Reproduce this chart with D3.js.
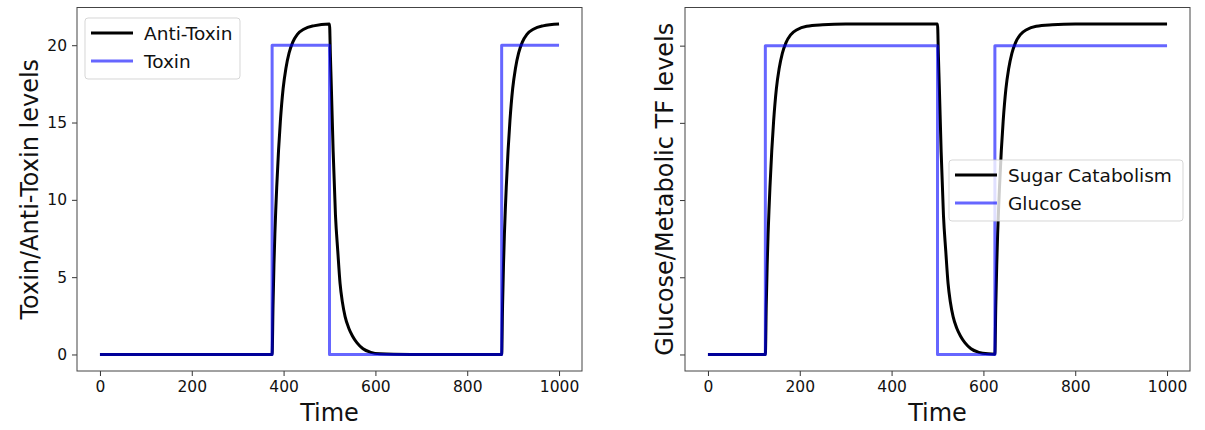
<!DOCTYPE html>
<html>
<head>
<meta charset="utf-8">
<script src="https://cdn.jsdelivr.net/npm/d3@7"></script>
<style>
  html, body { margin: 0; padding: 0; background: #fff; }
  svg { display: block; font-family: "DejaVu Sans", sans-serif; }
</style>
</head>
<body>
<svg id="chart" width="1205" height="430"></svg>
<script>
// ---- Data -------------------------------------------------------------
const xTicks = [0, 200, 400, 600, 800, 1000];
const yTicks = [0, 5, 10, 15, 20];

// Left panel: toxin pulses and the anti-toxin response
const toxinTime = [0, 375, 375, 500, 500, 875, 875, 1000];
const toxin     = [0, 0, 20, 20, 0, 0, 20, 20];

const antiToxinTime = [0, 375, 377, 379, 381, 383, 385, 389, 393, 399,
  405, 412, 420, 430, 445, 465, 500,
  502, 504, 508, 513, 518, 523, 528, 534, 542, 550,
  560, 573, 590, 610, 640, 700,
  875, 877, 879, 881, 883, 885, 889, 893, 899, 905,
  912, 920, 930, 945, 965, 1000];
const antiToxin = [0, 0, 3.2, 5.8, 7.8, 9.4, 10.8, 13.2, 15.1, 17.2,
  18.5, 19.5, 20.2, 20.7, 21.05, 21.25, 21.37,
  19.3, 17.3, 13.1, 9.0, 6.7, 4.6, 3.4, 2.45, 1.7, 1.2,
  0.75, 0.37, 0.14, 0.04, 0.01, 0,
  0, 3.2, 5.8, 7.8, 9.4, 10.8, 13.2, 15.1, 17.2, 18.5,
  19.5, 20.2, 20.7, 21.05, 21.25, 21.37];

// Right panel: glucose input and the sugar catabolism response
const glucoseTime = [0, 125, 125, 500, 500, 625, 625, 1000];
const glucose     = [0, 0, 20, 20, 0, 0, 20, 20];

const sugarTime = [0, 125, 127, 129, 131, 133, 135, 139, 143, 149,
  155, 162, 170, 180, 195, 215, 250, 300, 500,
  502, 504, 508, 513, 518, 523, 528, 534, 542, 550,
  560, 573, 590, 610, 625,
  627, 629, 631, 633, 635, 639, 643, 649, 655, 662,
  670, 680, 695, 715, 750, 800, 1000];
const sugar = [0, 0, 3.2, 5.8, 7.8, 9.4, 10.8, 13.2, 15.1, 17.2,
  18.5, 19.5, 20.2, 20.7, 21.05, 21.25, 21.35, 21.4, 21.4,
  19.3, 17.3, 13.1, 9.0, 6.7, 4.6, 3.4, 2.45, 1.7, 1.2,
  0.75, 0.37, 0.14, 0.04, 0.02,
  3.2, 5.8, 7.8, 9.4, 10.8, 13.2, 15.1, 17.2, 18.5, 19.5,
  20.2, 20.7, 21.05, 21.25, 21.35, 21.4, 21.4];

const panels = [
  {
    left: 77, right: 582,
    yLabel: "Toxin/Anti-Toxin levels", yLabelX: 30, showYTickLabels: true,
    response: { name: "Anti-Toxin", t: antiToxinTime, v: antiToxin },
    signal:   { name: "Toxin", t: toxinTime, v: toxin },
    legend: { x: 85, y: 18, w: 155, h: 61 }
  },
  {
    left: 685, right: 1190,
    yLabel: "Glucose/Metabolic TF levels", yLabelX: 665, showYTickLabels: false,
    response: { name: "Sugar Catabolism", t: sugarTime, v: sugar },
    signal:   { name: "Glucose", t: glucoseTime, v: glucose },
    legend: { x: 949, y: 160, w: 234, h: 61 }
  }
];

// ---- Drawing ----------------------------------------------------------
const svg = d3.select("#chart");
const plotTop = 7.5, plotBottom = 371;
const blackColor = "#000000";
const blueColor = "rgba(0,0,255,0.6)";

function padded(extent, frac) {
  const span = extent[1] - extent[0];
  return [extent[0] - span * frac, extent[1] + span * frac];
}

panels.forEach(p => {
  const allT = p.response.t.concat(p.signal.t);
  const allV = p.response.v.concat(p.signal.v);
  const x = d3.scaleLinear().domain(padded(d3.extent(allT), 0.05)).range([p.left, p.right]);
  const y = d3.scaleLinear().domain(padded(d3.extent(allV), 0.05)).range([plotBottom, plotTop]);

  const g = svg.append("g");

  // response curve (black), then the step signal on top (translucent blue)
  const smooth = d3.line().x(d => x(d[0])).y(d => y(d[1])).curve(d3.curveMonotoneX);
  const straight = d3.line().x(d => x(d[0])).y(d => y(d[1]));

  g.append("path")
    .datum(d3.zip(p.response.t, p.response.v))
    .attr("d", smooth)
    .attr("fill", "none").attr("stroke", blackColor).attr("stroke-width", 3)
    .attr("stroke-linejoin", "round");

  g.append("path")
    .datum(d3.zip(p.signal.t, p.signal.v))
    .attr("d", straight)
    .attr("fill", "none").attr("stroke", blueColor).attr("stroke-width", 3)
    .attr("stroke-linejoin", "round");

  // axes
  const xAxis = d3.axisBottom(x).tickValues(xTicks).tickSize(5).tickPadding(5).tickFormat(d3.format("d"));
  const yAxis = d3.axisLeft(y).tickValues(yTicks).tickSize(5).tickPadding(5)
    .tickFormat(p.showYTickLabels ? d3.format("d") : () => "");

  const gx = g.append("g").attr("transform", `translate(0,${plotBottom})`).call(xAxis);
  const gy = g.append("g").attr("transform", `translate(${p.left},0)`).call(yAxis);
  [gx, gy].forEach(a => {
    a.select(".domain").remove();
    a.selectAll(".tick line").attr("stroke", "#333").attr("stroke-width", 1);
    a.selectAll(".tick text").attr("fill", "#111").style("font-size", "15.5px")
      .style("font-family", '"DejaVu Sans", sans-serif');
  });

  // frame
  g.append("rect")
    .attr("x", p.left).attr("y", plotTop)
    .attr("width", p.right - p.left).attr("height", plotBottom - plotTop)
    .attr("fill", "none").attr("stroke", "#444").attr("stroke-width", 1);

  // axis labels
  g.append("text")
    .attr("x", (p.left + p.right) / 2).attr("y", 421)
    .attr("text-anchor", "middle").attr("fill", "#111")
    .style("font-size", "24px").text("Time");

  g.append("text")
    .attr("transform", `translate(${p.yLabelX},${(plotTop + plotBottom) / 2}) rotate(-90)`)
    .attr("text-anchor", "middle").attr("dominant-baseline", "central").attr("fill", "#111")
    .style("font-size", "24px").text(p.yLabel);

  // legend
  const L = p.legend;
  const lg = g.append("g");
  lg.append("rect")
    .attr("x", L.x).attr("y", L.y).attr("width", L.w).attr("height", L.h)
    .attr("rx", 3).attr("fill", "rgba(255,255,255,0.8)")
    .attr("stroke", "rgba(204,204,204,0.8)").attr("stroke-width", 1);
  const entries = [
    { name: p.response.name, color: blackColor },
    { name: p.signal.name, color: blueColor }
  ];
  entries.forEach((e, i) => {
    const cy = L.y + 15 + i * 28;
    lg.append("line")
      .attr("x1", L.x + 6).attr("x2", L.x + 48)
      .attr("y1", cy).attr("y2", cy)
      .attr("stroke", e.color).attr("stroke-width", 3);
    lg.append("text")
      .attr("x", L.x + 59).attr("y", cy)
      .attr("dominant-baseline", "central").attr("fill", "#111")
      .style("font-size", "18.5px").text(e.name);
  });
});
</script>
</body>
</html>
